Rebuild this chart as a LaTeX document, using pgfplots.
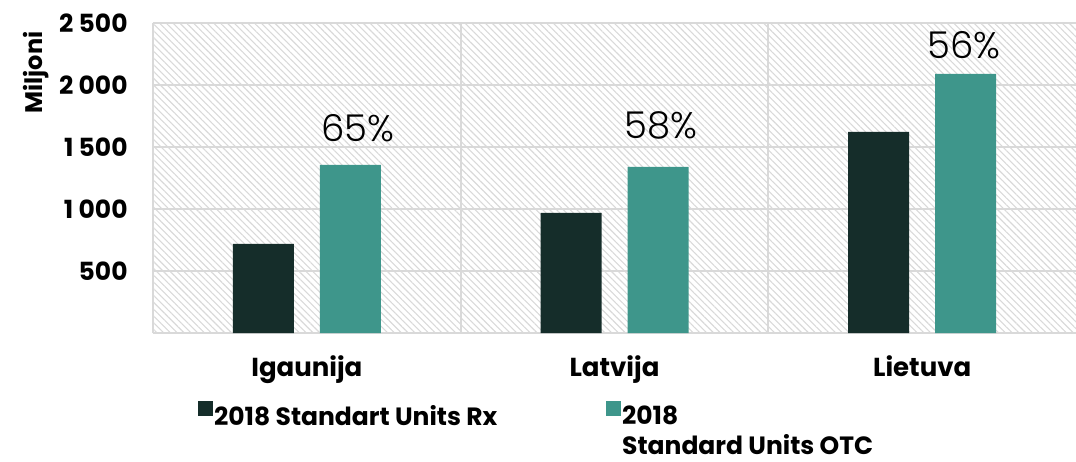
\documentclass[border=0pt]{standalone}
\usepackage{fontspec}
\setmainfont{Poppins}
\newfontfamily\pctfont{Poppins Light}
\usepackage{pgfplots}
\pgfplotsset{compat=1.18}
\usetikzlibrary{patterns.meta}

\definecolor{rxcol}{HTML}{152D2A}
\definecolor{otccol}{HTML}{3E968B}
\definecolor{gridcol}{HTML}{D9D9D9}

\begin{document}
\begin{tikzpicture}
\begin{axis}[
    scale only axis,
    width=461.5pt,
    height=155pt,
    xmin=-0.5, xmax=2.5,
    ymin=0, ymax=2500,
    axis lines*=left,
    axis line style={draw=gridcol, line width=1pt},
    axis background/.style={pattern={Lines[angle=-45,distance=2.4pt,line width=0.55pt]}, pattern color=gridcol},
    xtick={0,1,2},
    xticklabels={Igaunija,Latvija,Lietuva},
    minor xtick={0.5,1.5},
    ytick={500,1000,1500,2000,2500},
    yticklabels={500,1 000,1 500,2 000,2 500},
    major tick length=0pt,
    minor tick length=0pt,
    ymajorgrids,
    xminorgrids,
    grid style={draw=gridcol, line width=1pt},
    xticklabel style={font=\fontsize{13}{15}\selectfont\bfseries, inner sep=0pt, yshift=-11pt},
    yticklabel style={font=\fontsize{12.5}{15}\selectfont\bfseries, inner sep=0pt, xshift=-12.5pt},
    ylabel={Miljoni},
    ylabel style={font=\fontsize{12}{14}\selectfont\bfseries, at={(axis description cs:-0.127,0.84)}, anchor=center},
    legend columns=2,
    legend style={at={(axis description cs:0.042,-0.205)}, anchor=north west, draw=none, fill=none,
        font=\fontsize{12.5}{15}\selectfont\bfseries,
        nodes={inner sep=0.5pt}},
    legend cell align=left,
    clip=false,
]
\addplot[ybar, bar width=30.5pt, bar shift=-21.75pt, draw=none, fill=rxcol,
    legend image code/.code={\fill[rxcol] (0pt,0.3pt) rectangle (7.5pt,7.8pt);}]
coordinates {
    (0, 718)
    (1, 968)
    (2, 1621)
};
\addlegendentry{\makebox[195.5pt][l]{2018 Standart Units Rx}}
\addplot[ybar, bar width=30.5pt, bar shift=21.75pt, draw=none, fill=otccol,
    legend image code/.code={\fill[otccol] (0pt,0.3pt) rectangle (7.5pt,7.8pt);}]
coordinates {
    (0, 1355)
    (1, 1339)
    (2, 2089)
};
\addlegendentry{\vtop{\baselineskip=15pt\hbox{2018}\hbox{Standard Units OTC}}}
% share labels above the OTC bars
\addplot[forget plot, sharp plot, draw=none, mark=none,
    point meta=explicit symbolic,
    nodes near coords,
    nodes near coords align={center},
    every node near coord/.append style={font=\pctfont\fontsize{18.5}{22}\selectfont, text=black}]
coordinates {
    (0.165, 1653) [65\%]
    (1.151, 1677) [58\%]
    (2.135, 2323) [56\%]
};
\coordinate (bl) at (rel axis cs:0,0);
\coordinate (tr) at (rel axis cs:1,1);
\end{axis}
\pgfresetboundingbox
\useasboundingbox ([xshift=-76.5pt,yshift=-64pt]bl) rectangle ([yshift=11.5pt]tr);
\end{tikzpicture}
\end{document}
